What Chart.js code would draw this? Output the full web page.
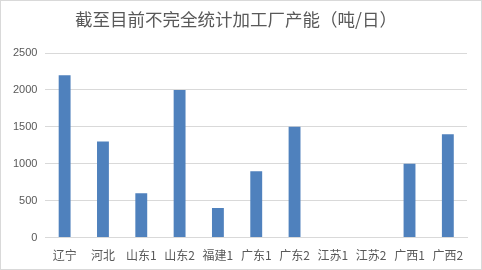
<!DOCTYPE html>
<html><head><meta charset="utf-8">
<script src="https://cdn.jsdelivr.net/npm/chart.js@4"></script>
<style>
html,body{margin:0;padding:0;background:#fff;}
#wrap{position:absolute;left:0;top:0;width:480px;height:268px;border:1px solid #d9d9d9;}
canvas{display:block;}
</style></head><body>
<div id="wrap"><canvas id="c" width="480" height="268"></canvas></div>
<script>
const categories = ["辽宁","河北","山东1","山东2","福建1","广东1","广东2","江苏1","江苏2","广西1","广西2"];
const capacity = [2200,1300,600,2000,400,900,1500,0,0,1000,1400];
const yTicks = [0,500,1000,1500,2000,2500];
const titleText = "截至目前不完全统计加工厂产能（吨/日）";

new Chart(document.getElementById('c'), {
  type: 'bar',
  data: { labels: categories, datasets: [{ data: capacity, backgroundColor: '#4f81bd', barPercentage: 0.62, categoryPercentage: 0.5 }] },
  options: {
    responsive: false, animation: false,
    layout: { padding: { left: 4, right: 14, top: 6, bottom: 3 } },
    plugins: {
      legend: { display: false }, tooltip: { enabled: false },
      title: { display: true, text: titleText, color: '#595959',
        font: { family: '"Noto Sans CJK SC", sans-serif', size: 17.5, weight: 'normal' },
        padding: { top: 2, bottom: 23 } }
    },
    scales: {
      x: { grid: { display: false }, border: { color: '#d9d9d9' },
        ticks: { color: '#595959', font: { family: '"Noto Sans CJK SC", sans-serif', size: 12 }, maxRotation: 0, autoSkip: false, padding: 3 } },
      y: { min: 0, max: 2500, afterBuildTicks: s => { s.ticks = yTicks.map(v => ({ value: v })); },
        grid: { color: '#d9d9d9', drawTicks: false }, border: { display: false },
        ticks: { color: '#595959', padding: 8, callback: v => String(v), font: { family: '"Liberation Sans", sans-serif', size: 11 } } }
    }
  }
});
</script>
</body></html>
